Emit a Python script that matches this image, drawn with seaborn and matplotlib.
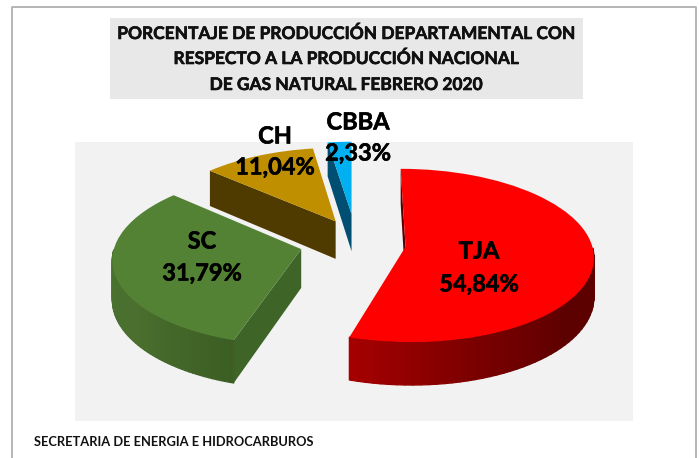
import numpy as np
import matplotlib
matplotlib.use("Agg")
import matplotlib.pyplot as plt
import matplotlib.patheffects as pe
from matplotlib.collections import PolyCollection
from matplotlib.patches import Rectangle
from matplotlib.transforms import Transform
import seaborn as sns

departments = ["TJA", "SC", "CH", "CBBA"]
shares = [54.84, 31.79, 11.04, 2.33]
share_labels = ["54,84%", "31,79%", "11,04%", "2,33%"]
title_lines = ["PORCENTAJE DE PRODUCCIÓN DEPARTAMENTAL CON",
               "RESPECTO A LA PRODUCCIÓN NACIONAL",
               "DE GAS NATURAL FEBRERO 2020"]
footer = "SECRETARIA DE ENERGIA E HIDROCARBUROS"

top_colors = ["#ff0000", "#548235", "#bf8f00", "#00b0f0"]
face_colors = ["#5a0000", "#3f6427", "#4f3a00", "#004f72"]
rim_ramps = [["#a50000", "#7a0000", "#5c0000", "#5c0000"],
             ["#4a7230", "#4a6f2e", "#3c5e24"],
             ["#4f3a00", "#4f3a00"], ["#004f72", "#004f72"]]
explode = [0.29, 0.27, 0.27, 0.33]
nudge_px = [(0, 0), (-2, 0), (7, 2), (4, 2)]
label_px = [(479, 251, 284), (202, 241, 273), (275, 136, 167), (358, 122, 153)]

W, H = 699, 458
K = 0.10


class Perspective(Transform):
    input_dims = output_dims = 2

    def transform_non_affine(self, pts):
        pts = np.asarray(pts, float)
        return pts / (1 + K * pts[:, 1:2])


def project(u, v, z=0.0):
    s = 1 / (1 + K * np.asarray(v, float))
    return np.asarray(u) * s, np.asarray(v) * s - z * s


sns.set_theme(style="white")
plt.rcParams["font.family"] = ["Lato", "DejaVu Sans"]
fig = plt.figure(figsize=(W / 100, H / 100), dpi=100, facecolor="white")

# page frame and title box
bg = fig.add_axes([0, 0, 1, 1], zorder=0)
bg.set_xlim(0, W); bg.set_ylim(H, 0); bg.axis("off")
bg.plot([11.5, 11.5, 696, 696], [H, 7, 7, H], color="#b0b0b0", lw=1.3)
bg.add_patch(Rectangle((110, 18), 473, 81, color="#e8e8e8", lw=0))

# plot area
L, T, R, B = 75, 142, 633, 421
rx, ry, cx, cy, depth_px = 186.0, 85.0, 352.0, 243.0, 38.5
ax = fig.add_axes([L / W, 1 - B / H, (R - L) / W, (B - T) / H], zorder=1)
wedges, _ = ax.pie(shares, startangle=90, counterclock=False, colors=top_colors,
                   explode=explode, wedgeprops=dict(lw=0, zorder=3), radius=1.0)
ax.set_aspect("auto")
ax.set_frame_on(True)
ax.set_facecolor("#f2f2f2")
ax.set_xlim((L - cx) / rx, (R - cx) / rx)
ax.set_ylim((cy - B) / ry, (cy - T) / ry)
ax.set_xticks([]); ax.set_yticks([])
for s in ax.spines.values():
    s.set_visible(False)

depth = depth_px / ry
persp = Perspective() + ax.transData
for w, fc, ramp, (dx, dy) in zip(wedges, face_colors, rim_ramps, nudge_px):
    w.set_center((w.center[0] + dx / rx, w.center[1] + dy / ry))
    w.set_transform(persp)
    c = np.array(w.center)
    t = np.radians(w.theta2)
    corner = c + w.r * np.array([np.cos(t), np.sin(t)])
    a0, b0 = project(c[0], c[1])
    a1, b1 = project(corner[0], corner[1])
    a2, b2 = project(corner[0], corner[1], depth)
    a3, b3 = project(c[0], c[1], depth)
    ax.fill([a0, a1, a2, a3], [b0, b1, b2, b3], color=fc, lw=0, zorder=1)
    angs = np.radians(np.linspace(w.theta1, w.theta2, 90))
    angs = angs[np.sin(angs) <= 0]
    if len(angs) > 1:
        u = c[0] + w.r * np.cos(angs)
        v = c[1] + w.r * np.sin(angs)
        px, py = project(u, v)
        qx, qy = project(u, v, depth)
        quads = [[(px[i], py[i]), (px[i + 1], py[i + 1]),
                  (qx[i + 1], qy[i + 1]), (qx[i], qy[i])]
                 for i in range(len(angs) - 1)]
        pal = sns.blend_palette(ramp, len(quads))
        ax.add_collection(PolyCollection(quads, facecolors=pal, edgecolors=pal,
                                         linewidths=0.9, zorder=2))

# text on the page
tx = fig.add_axes([0, 0, 1, 1], zorder=2)
tx.set_xlim(0, W); tx.set_ylim(H, 0); tx.axis("off")
stroke = [pe.withStroke(linewidth=0.4, foreground="black")]
for line, y in zip(title_lines, [34, 59, 85]):
    tx.text(346, y, line, ha="center", va="center", fontsize=12.5, fontweight="bold",
            color="#111111", path_effects=stroke)
for d, s, (x, y1, y2) in zip(departments, share_labels, label_px):
    tx.text(x, y1, d, ha="center", va="center", fontsize=17, fontweight="bold",
            color="black", path_effects=stroke)
    tx.text(x, y2, s, ha="center", va="center", fontsize=17, fontweight="bold",
            color="black", path_effects=stroke)
tx.text(34, 442, footer, ha="left", va="center", fontsize=9.3, fontweight="bold", color="#111111")

fig.savefig("out.png", dpi=100)
